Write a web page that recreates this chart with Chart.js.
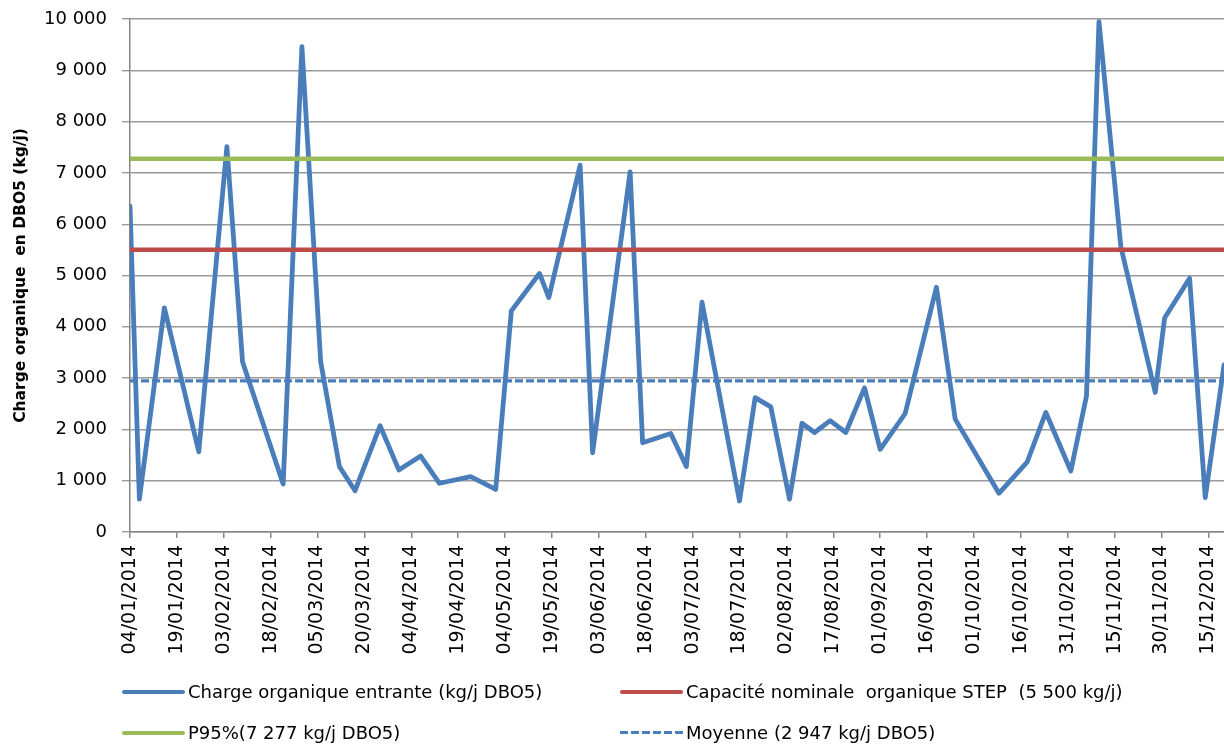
<!DOCTYPE html>
<html>
<head>
<meta charset="utf-8">
<script src="https://cdn.jsdelivr.net/npm/chart.js@4"></script>
<style>
  html, body { margin: 0; padding: 0; background: #fff; }
  #wrap { position: relative; width: 1224px; height: 745px; overflow: hidden; }
  #legend { position: absolute; left: 0; top: 0; width: 1224px; height: 745px; pointer-events: none;
            font-family: "DejaVu Sans", sans-serif; font-size: 18px; color: #000; }
  .item { position: absolute; height: 22px; line-height: 22px; white-space: pre; }
  .swatch { position: absolute; left: 0; top: 9px; width: 63px; height: 4px; }
  .item span { position: absolute; left: 66px; top: 0; }
</style>
</head>
<body>
<div id="wrap">
  <canvas id="chart" width="1224" height="745"></canvas>
  <div id="legend"></div>
</div>
<script>
// sampling dates and incoming organic load (kg/j DBO5)
const dates = [
  '04/01/2014', '07/01/2014', '15/01/2014', '26/01/2014', '04/02/2014', '09/02/2014',
  '22/02/2014', '28/02/2014', '06/03/2014', '12/03/2014', '17/03/2014', '25/03/2014',
  '31/03/2014', '07/04/2014', '13/04/2014', '23/04/2014', '01/05/2014', '06/05/2014',
  '15/05/2014', '18/05/2014', '28/05/2014', '01/06/2014', '13/06/2014', '17/06/2014',
  '26/06/2014', '01/07/2014', '06/07/2014', '18/07/2014', '23/07/2014', '28/07/2014',
  '03/08/2014', '07/08/2014', '11/08/2014', '16/08/2014', '21/08/2014', '27/08/2014',
  '01/09/2014', '09/09/2014', '19/09/2014', '25/09/2014', '09/10/2014', '18/10/2014',
  '24/10/2014', '01/11/2014', '06/11/2014', '10/11/2014', '17/11/2014', '28/11/2014',
  '01/12/2014', '09/12/2014', '14/12/2014', '20/12/2014'
];
const charge = [
  6350, 640, 4370, 1565, 7510, 3320,
  935, 9460, 3320, 1275, 805, 2070,
  1210, 1480, 950, 1080, 830, 4310,
  5040, 4570, 7150, 1545, 7020, 1740,
  1920, 1275, 4480, 605, 2620, 2440,
  640, 2120, 1940, 2170, 1940, 2810,
  1610, 2310, 4770, 2200, 755, 1360,
  2330, 1190, 2650, 9950, 5560, 2720,
  4170, 4945, 670, 3255
];
const capacite = 5500;
const p95 = 7277;
const moyenne = 2947;

const labels = [
  'Charge organique entrante (kg/j DBO5)',
  'Capacité nominale  organique STEP  (5 500 kg/j)',
  'P95%(7 277 kg/j DBO5)',
  'Moyenne (2 947 kg/j DBO5)'
];
const yTitle = 'Charge organique  en DBO5 (kg/j)';

// day offsets from the first date
function toUTC(s) {
  const p = s.split('/');
  return Date.UTC(+p[2], +p[1] - 1, +p[0]);
}
const t0 = toUTC(dates[0]);
const days = dates.map(d => Math.round((toUTC(d) - t0) / 86400000));
const xMax = days[days.length - 1];

function fmtDay(v) {
  const d = new Date(t0 + v * 86400000);
  const dd = String(d.getUTCDate()).padStart(2, '0');
  const mm = String(d.getUTCMonth() + 1).padStart(2, '0');
  return dd + '/' + mm + '/' + d.getUTCFullYear();
}
function fmtNum(v) {
  return String(v).replace(/\B(?=(\d{3})+(?!\d))/g, ' ');
}
function flat(value) {
  return [{ x: 0, y: value }, { x: xMax, y: value }];
}

const blue = '#4a7ebb';
const red = '#be4b48';
const green = '#9bbb59';

const datasets = [
  {
    label: labels[0],
    data: days.map((x, i) => ({ x: x, y: charge[i] })),
    borderColor: blue, borderWidth: 4.8, order: 2
  },
  { label: labels[1], data: flat(capacite), borderColor: red, borderWidth: 4.5, order: 1 },
  { label: labels[2], data: flat(p95), borderColor: green, borderWidth: 4.5, order: 1 },
  { label: labels[3], data: flat(moyenne), borderColor: blue, borderWidth: 3.2, borderDash: [8, 3], order: 1 }
];
datasets.forEach(ds => {
  ds.pointRadius = 0;
  ds.fill = false;
  ds.tension = 0;
  ds.borderJoinStyle = 'round';
  ds.borderCapStyle = ds.borderDash ? 'butt' : 'round';
});

new Chart(document.getElementById('chart'), {
  type: 'line',
  data: { datasets: datasets },
  options: {
    responsive: false,
    animation: false,
    layout: { padding: { top: 19, left: 0, right: 0, bottom: 0 } },
    plugins: { legend: { display: false }, tooltip: { enabled: false } },
    scales: {
      x: {
        type: 'linear',
        min: 0,
        max: xMax,
        grid: { drawOnChartArea: false, drawTicks: true, tickLength: 6, color: '#868686', lineWidth: 1.5 },
        border: { display: true, color: '#868686', width: 1.5 },
        ticks: {
          stepSize: 15,
          includeBounds: false,
          autoSkip: false,
          maxRotation: 90,
          minRotation: 90,
          padding: 7,
          color: '#000',
          font: { family: 'DejaVu Sans', size: 19 },
          callback: v => fmtDay(v)
        },
        afterFit: s => { s.height = 213; s.paddingLeft = 0; s.paddingRight = 0; }
      },
      y: {
        min: 0,
        max: 10000,
        grid: { color: '#9a9a9a', lineWidth: 1.4, tickLength: 8 },
        border: { display: true, color: '#868686', width: 1.5 },
        ticks: {
          stepSize: 1000,
          padding: 15,
          color: '#000',
          font: { family: 'DejaVu Sans', size: 18 },
          callback: v => fmtNum(v)
        },
        title: {
          display: true,
          text: yTitle,
          color: '#000',
          font: { family: 'DejaVu Sans', size: 15.5, weight: 'bold' },
          padding: { top: 12, bottom: 0 }
        },
        afterFit: s => { s.width = 130; s.paddingTop = 0; s.paddingBottom = 0; }
      }
    }
  }
});

// legend: two columns, two rows
const legend = document.getElementById('legend');
const spots = [[122, 681], [620, 681], [122, 722], [620, 722]];
datasets.forEach((ds, i) => {
  const it = document.createElement('div');
  it.className = 'item';
  it.style.left = spots[i][0] + 'px';
  it.style.top = spots[i][1] + 'px';
  const sw = document.createElement('div');
  sw.className = 'swatch';
  if (ds.borderDash) {
    sw.style.height = '3px';
    sw.style.background = 'repeating-linear-gradient(90deg,' + ds.borderColor + ' 0 8px, transparent 8px 11px)';
  } else {
    sw.style.background = ds.borderColor;
    sw.style.borderRadius = '2px';
  }
  const tx = document.createElement('span');
  tx.textContent = ds.label;
  it.appendChild(sw);
  it.appendChild(tx);
  legend.appendChild(it);
});
</script>
</body>
</html>
